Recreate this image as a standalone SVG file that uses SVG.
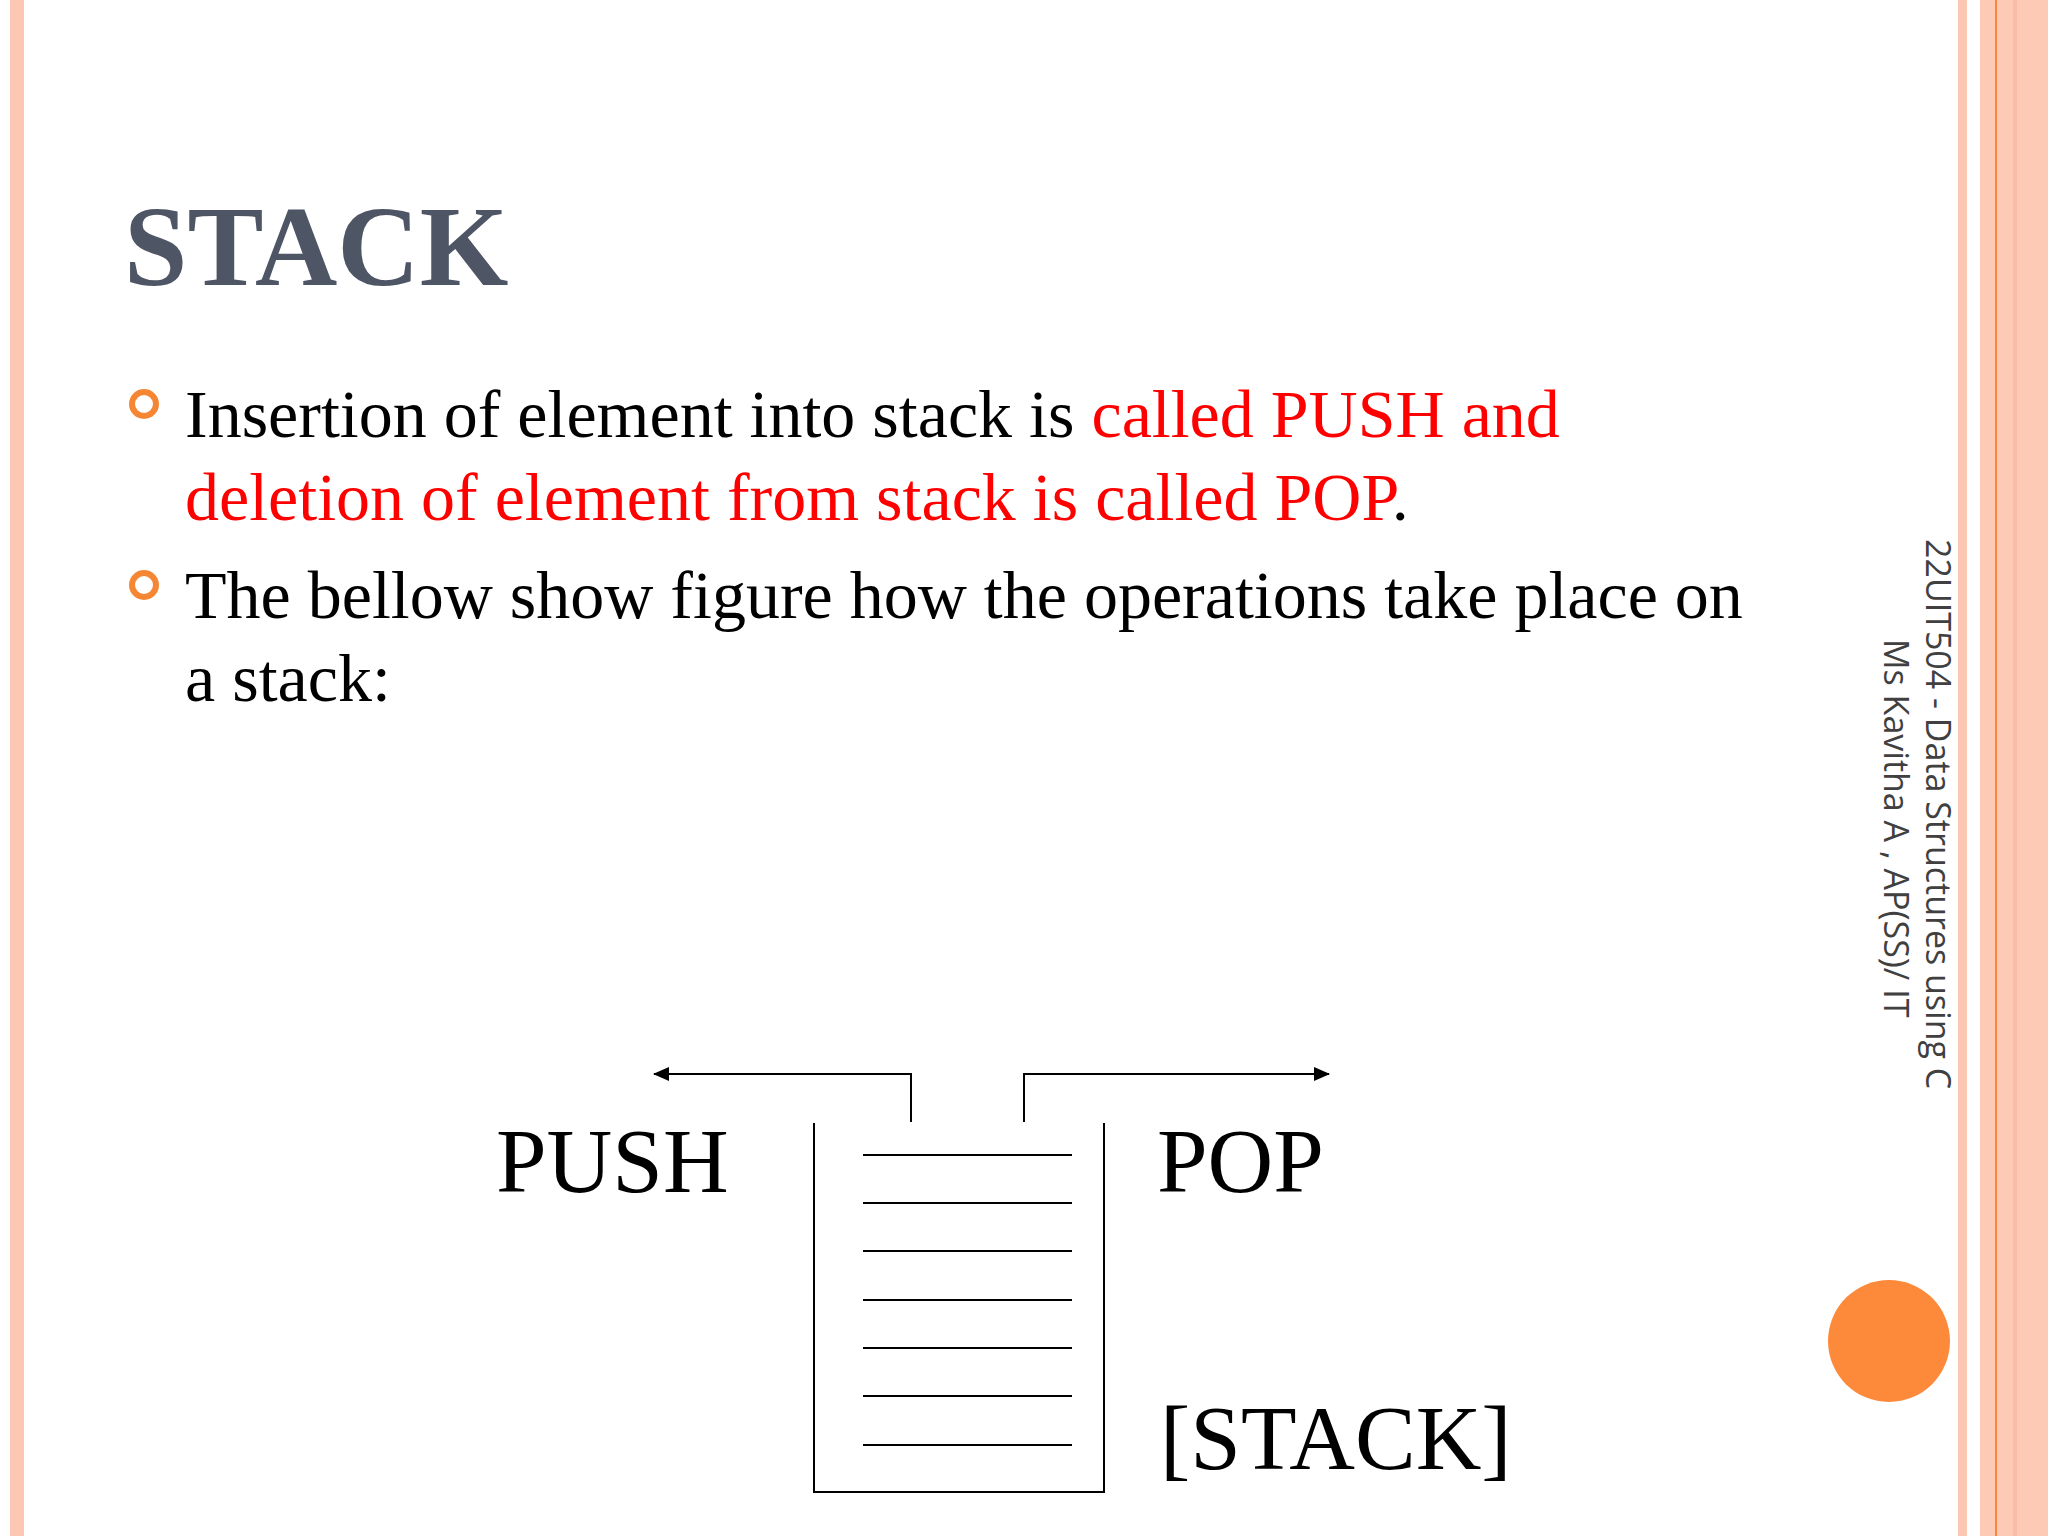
<svg xmlns="http://www.w3.org/2000/svg" width="2048" height="1536" viewBox="0 0 2048 1536">
<style>
.t{font-family:"Liberation Serif",serif;fill:#000}
.r{fill:#ff0000}
.ln{stroke:#000;stroke-width:2;fill:none}
.side{font-family:"Open Sans","Noto Sans",sans-serif;font-size:34px;fill:#404040}
</style>
<defs><marker id="ah" markerWidth="16" markerHeight="14" refX="15" refY="7" orient="auto" markerUnits="userSpaceOnUse"><path d="M0,0 L16,7 L0,14 Z" fill="#000"/></marker></defs>
<rect width="2048" height="1536" fill="#fff"/>
<rect x="10" y="0" width="14" height="1536" fill="#fcc8b4"/>
<rect x="1958" y="0" width="9" height="1536" fill="#fcc8b4"/>
<rect x="1980" y="0" width="68" height="1536" fill="#fdcab6"/>
<rect x="1995" y="0" width="2" height="1536" fill="#f5883e"/>
<rect x="2013" y="0" width="4" height="1536" fill="#fbbca5"/>
<circle cx="1889" cy="1341" r="61" fill="#fd8a3a"/>
<text class="side" transform="translate(1926,539) rotate(90)">22UIT504 - Data Structures using C</text>
<text class="side" transform="translate(1884,639) rotate(90)">Ms Kavitha A , AP(SS)/ IT</text>
<text x="124" y="285" font-family="Liberation Serif,serif" font-weight="bold" font-size="114" fill="#4e5565">STACK</text>
<g fill="none" stroke="#f58634" stroke-width="6"><circle cx="144" cy="404" r="12"/><circle cx="144" cy="585" r="12"/></g>
<text class="t" x="185" y="437" font-size="68">Insertion of element into stack is <tspan class="r">called PUSH and</tspan></text>
<text class="t r" x="185" y="520" font-size="68">deletion of element from stack is called POP<tspan fill="#000">.</tspan></text>
<text class="t" x="185" y="618" font-size="68">The bellow show figure how the operations take place on</text>
<text class="t" x="185" y="701" font-size="68">a stack:</text>
<g id="connectors">
<path class="ln" d="M911,1122 V1074 H654" marker-end="url(#ah)"/>
<path class="ln" d="M1024,1122 V1074 H1329" marker-end="url(#ah)"/>
</g>
<g id="stack">
<path class="ln" d="M814,1123 V1492 H1104 V1123"/>
<path class="ln" d="M863,1155H1072M863,1203H1072M863,1251H1072M863,1300H1072M863,1348H1072M863,1396H1072M863,1445H1072"/>
<text class="t" x="1160" y="1469" font-size="91">[STACK]</text>
</g>
<g id="push"><text class="t" x="496" y="1192" font-size="91">PUSH</text></g>
<g id="pop"><text class="t" x="1157" y="1192" font-size="91">POP</text></g>
</svg>
